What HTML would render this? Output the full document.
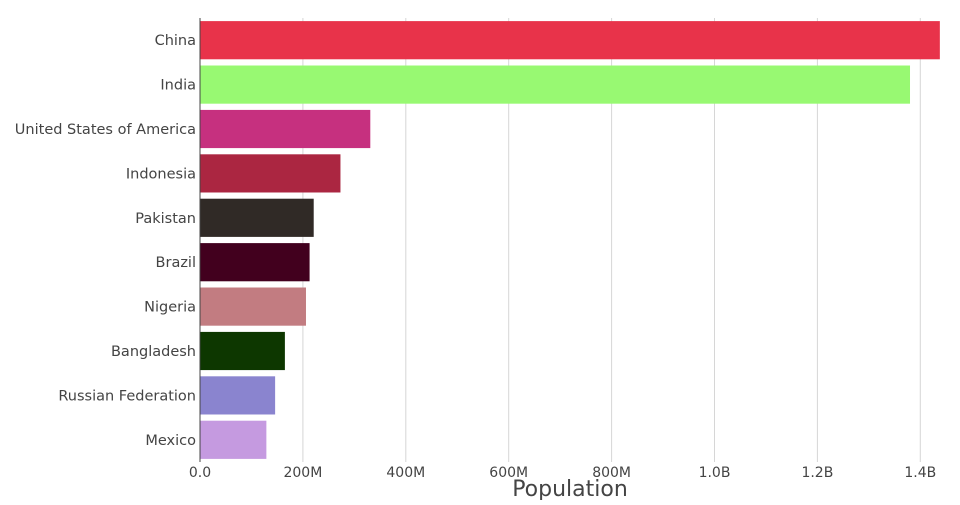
<!DOCTYPE html>
<html><head><meta charset="utf-8"><style>
body{margin:0;background:#fff;}
svg text{font-family:"DejaVu Sans","Liberation Sans",sans-serif;fill:#444;}
</style></head><body>
<svg id="chart" width="960" height="500" xmlns="http://www.w3.org/2000/svg"></svg>
<script>
const categories=["China","India","United States of America","Indonesia","Pakistan","Brazil","Nigeria","Bangladesh","Russian Federation","Mexico"];
const values=[1438e6,1380e6,331e6,273e6,221e6,213e6,206e6,165e6,146e6,129e6];
const colors=["#e8334a","#98f972","#c6307f","#ab2641","#302a26","#42001e","#c27c81","#0d3700","#8a84cf","#c59ae0"];
const tickValues=[0,2e8,4e8,6e8,8e8,1e9,1.2e9,1.4e9];
const tickLabels=["0.0","200M","400M","600M","800M","1.0B","1.2B","1.4B"];
const NS="http://www.w3.org/2000/svg";
const svgEl=document.getElementById("chart");
const x0=200,xPer=102.9/2e8,plotTop=18,plotBottom=462;
const band=(plotBottom-plotTop)/categories.length;
const xs=v=>x0+v*xPer;
function mk(t,a,p){const e=document.createElementNS(NS,t);for(const k in a)e.setAttribute(k,a[k]);(p||svgEl).appendChild(e);return e;}
const grid=mk("g",{});


tickValues.forEach((v,i)=>{
  if(i>0){const l=mk("line",{x1:xs(v),x2:xs(v),y1:plotTop,y2:plotBottom,stroke:"#d6d6d6","stroke-width":1},grid);
  
  }
  const t=mk("text",{x:xs(v),y:477,"text-anchor":"middle","font-size":14});
  t.textContent=tickLabels[i];
  
  
});
categories.forEach((c,i)=>{
  const y=plotTop+i*band;
  const r=mk("rect",{x:x0,y:y+band*0.07,width:xs(values[i])-x0,height:band*0.86,fill:colors[i]});
  
  
  const t=mk("text",{x:196,y:y+band/2+5,"text-anchor":"end","font-size":14.5});
  t.textContent=c;
  
  
});
const ax=mk("line",{x1:x0,x2:x0,y1:plotTop,y2:plotBottom,stroke:"#444","stroke-width":1});


const title=mk("text",{x:570,y:496,"text-anchor":"middle","font-size":22});
title.textContent="Population";


</script>
</body></html>
